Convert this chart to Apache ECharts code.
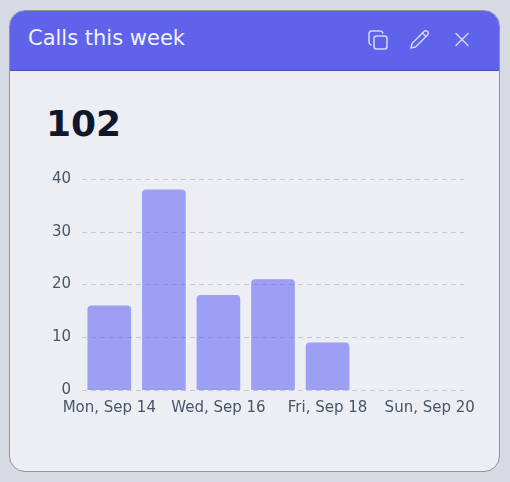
<!DOCTYPE html>
<html>
<head>
<meta charset="utf-8">
<title>Calls this week</title>
<script src="https://cdn.jsdelivr.net/npm/echarts@6/dist/echarts.min.js"></script>
<style>
  html, body { margin: 0; padding: 0; width: 510px; height: 482px; overflow: hidden; background: #d6dae2; font-family: "DejaVu Sans", sans-serif; }
  #card { position: absolute; left: 9px; top: 10px; width: 489px; height: 460px; background: #eceef3; border: 1px solid #8f939f; border-radius: 16px; overflow: hidden; }
  #header { position: absolute; left: 0; top: 0; width: 100%; height: 59px; background: #5f63ec; border-bottom: 1px solid #4d50b8; }
  #title { position: absolute; left: 18px; top: 14px; font-size: 21px; line-height: 26px; color: #f1f2fe; }
  #total { position: absolute; left: 36px; top: 90px; font-size: 36px; line-height: 46px; font-weight: bold; color: #0f172a; }
  .icon { position: absolute; top: 17px; width: 24px; height: 24px; fill: none; stroke: #d5d7fb; stroke-width: 1.5; stroke-linecap: round; stroke-linejoin: round; }
  #chart { position: absolute; left: 0; top: 0; width: 510px; height: 482px; }
</style>
</head>
<body>
<div id="card">
  <div id="header">
    <div id="title">Calls this week</div>
    <svg class="icon" style="left:356px" viewBox="0 0 24 24"><rect x="8" y="8" width="13" height="13" rx="2.5"></rect><path d="M5 17 C3.5 16.5 3 15.5 3 14 V6 C3 4 4 3 6 3 H14 C15.5 3 16.5 3.5 17 5"></path></svg>
    <svg class="icon" style="left:397px" viewBox="0 0 24 24"><path d="M4 20 L5 15.5 L17 3.5 C18 2.5 19.5 2.5 20.5 3.5 C21.5 4.5 21.5 6 20.5 7 L8.5 19 Z"></path><path d="M15.5 5 L19 8.5"></path></svg>
    <svg class="icon" style="left:440px" viewBox="0 0 24 24"><path d="M6 5.5 L18 17.5 M18 5.5 L6 17.5"></path></svg>
  </div>
  <div id="total">102</div>
</div>
<div id="chart"></div>
<script>
var categories = ['Mon, Sep 14', 'Tue, Sep 15', 'Wed, Sep 16', 'Thu, Sep 17', 'Fri, Sep 18', 'Sat, Sep 19', 'Sun, Sep 20'];
var calls = [16, 38, 18, 21, 9, 0, 0];
var yTicks = { min: 0, max: 40, interval: 10 };

var chart = echarts.init(document.getElementById('chart'), null, { renderer: 'canvas' });

var option = {
  animation: false,
  textStyle: { fontFamily: '"DejaVu Sans", sans-serif' },
  grid: { left: 82, right: 46, top: 179, bottom: 92 },
  xAxis: {
    type: 'category',
    data: categories,
    axisLine: { show: false },
    axisTick: { show: false },
    axisLabel: {
      interval: 1,
      hideOverlap: false,
      color: '#475569',
      fontSize: 15,
      margin: 11,
      // last label is pulled in from the edge of the card
      formatter: function (value, index) {
        return index === categories.length - 1 ? '{last|' + value + '}' : value;
      },
      rich: {
        last: { color: '#475569', fontSize: 15, padding: [0, 14, 0, 0] }
      }
    }
  },
  yAxis: {
    type: 'value',
    min: yTicks.min,
    max: yTicks.max,
    interval: yTicks.interval,
    axisLine: { show: false },
    axisTick: { show: false },
    axisLabel: { color: '#475569', fontSize: 15, margin: 11, padding: [2, 0, 0, 0] },
    splitLine: { lineStyle: { color: '#c3c6cd', type: [5, 4], width: 1 } }
  },
  series: [
    {
      type: 'bar',
      data: calls,
      barWidth: '80%',
      itemStyle: { color: '#6366f1', opacity: 0.58, borderRadius: [4, 4, 0, 0] }
    }
  ]
};

chart.setOption(option);
window.addEventListener('resize', chart.resize);
</script>
</body>
</html>
